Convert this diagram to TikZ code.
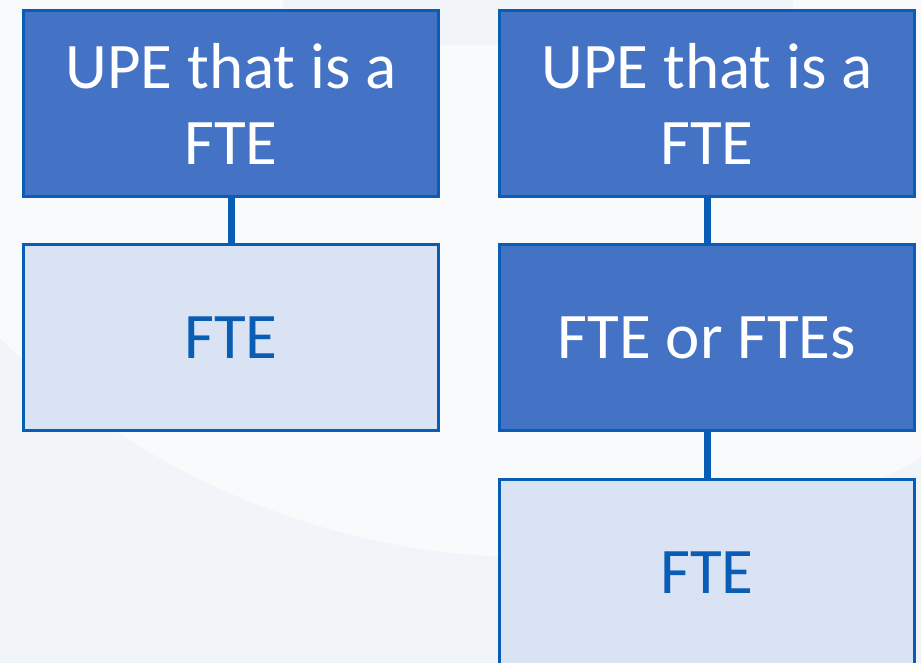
\documentclass[tikz,border=0pt]{standalone}
\usepackage{fontspec}
\setmainfont{Carlito}
\usepackage{tikz}
\usetikzlibrary{positioning}
\definecolor{upeblue}{HTML}{4472C4}
\definecolor{lineblue}{HTML}{0A5DB4}
\definecolor{paleblue}{HTML}{DAE3F3}
\definecolor{bglight}{HTML}{F9FAFC}
\definecolor{bggray}{HTML}{F1F4F9}
\tikzset{
    darkbox/.style = {rectangle, line width=3pt, draw=lineblue, fill=upeblue, text=white,
                      minimum width=415pt, minimum height=186pt, align=center,
                      font=\fontsize{65}{76}\selectfont},
    lightbox/.style = {darkbox, fill=paleblue, text=lineblue},
    link/.style = {line width=7pt, draw=lineblue},
}
\begin{document}
\begin{tikzpicture}[x=1pt,y=-1pt]
\useasboundingbox (0,0) rectangle (921,663);
\clip (0,0) rectangle (921,663);
% background
\fill[bggray] (0,0) rectangle (921,663);
\fill[bglight] (540,-215) circle [radius=773pt];
\fill[bggray] (283,0) rectangle (793,45);
%
\node[darkbox] at (231, 103.5) (upea) {UPE that is a\\FTE};
\node[lightbox] at (231, 337.5) (ftea) {FTE};
\node[darkbox] at (707, 103.5) (upeb) {UPE that is a\\FTE};
\node[darkbox] at (707, 337.5) (ftes) {FTE or FTEs};
\node[lightbox] at (707, 572.5) (fteb) {FTE};
%
\draw[link] (upea) -- (ftea);
\draw[link] (upeb) -- (ftes);
\draw[link] (ftes) -- (fteb);

\end{tikzpicture}
\end{document}
